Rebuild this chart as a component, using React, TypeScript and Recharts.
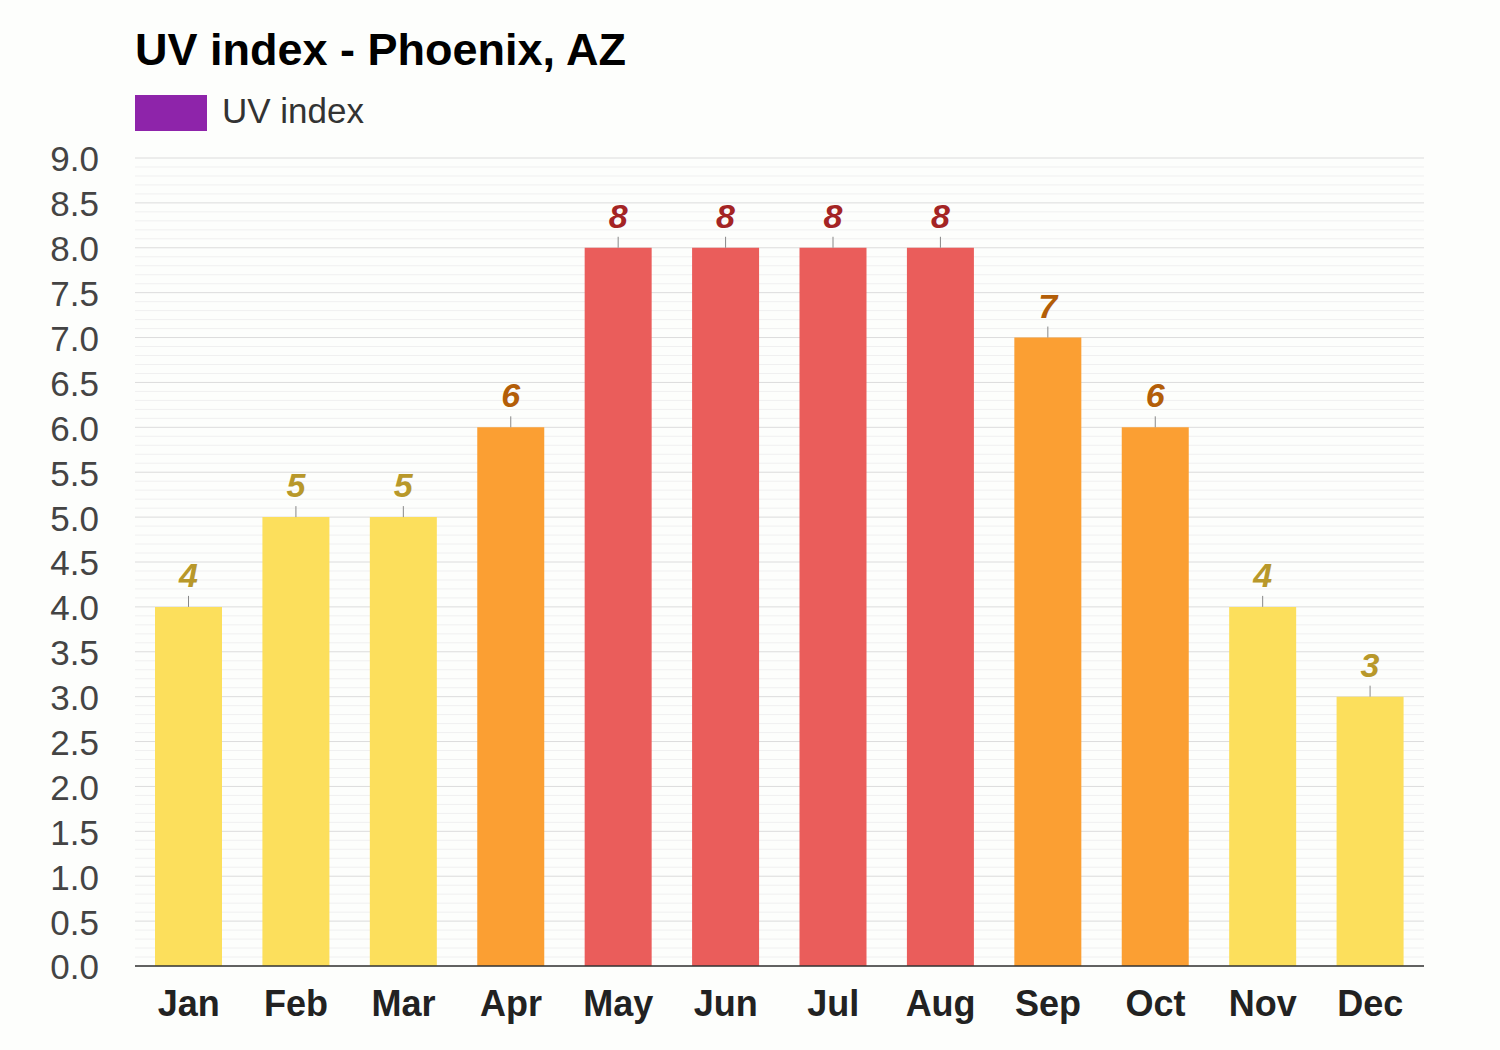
import React from "react";
import { BarChart, Bar, XAxis, YAxis, CartesianGrid, LabelList, Cell } from "recharts";

const months = ["Jan", "Feb", "Mar", "Apr", "May", "Jun", "Jul", "Aug", "Sep", "Oct", "Nov", "Dec"];
const uvIndex = [4, 5, 5, 6, 8, 8, 8, 8, 7, 6, 4, 3];
const yTicks = [0, 0.5, 1, 1.5, 2, 2.5, 3, 3.5, 4, 4.5, 5, 5.5, 6, 6.5, 7, 7.5, 8, 8.5, 9];
const yMax = 9;
// faint lines every 0.1 between the labelled ticks
const minorTicks = Array.from({ length: 91 }, (_, i) => i / 10).filter((_, i) => i % 5 !== 0);

const data = months.map((m, i) => ({ month: m, uv: uvIndex[i] }));

const FONT = '"Liberation Sans", Arial, Helvetica, sans-serif';

// bar fill + label colour by uv level
function barColor(v: number) {
  if (v >= 8) return "#ea5d5b";
  if (v >= 6) return "#fb9f33";
  return "#fcdf5c";
}
function labelColor(v: number) {
  if (v >= 8) return "#a42424";
  if (v >= 6) return "#b35e08";
  return "#b8982a";
}

const ValueLabel = (props: any) => {
  const { x, y, width, value } = props;
  const cx = x + width / 2;
  return (
    <g>
      <line x1={cx} x2={cx} y1={y - 11} y2={y} stroke="#888" strokeWidth={1} />
      <text
        x={cx}
        y={y - 20}
        textAnchor="middle"
        fontFamily={FONT}
        fontSize={34}
        fontWeight="bold"
        fontStyle="italic"
        fill={labelColor(value)}
      >
        {value}
      </text>
    </g>
  );
};

const minorLines = ({ offset }: any) =>
  minorTicks.map((t) => offset.top + offset.height * (1 - t / yMax));

export default function App() {
  return (
    <div style={{ position: "absolute", left: 0, top: 0, width: 1500, height: 1050, background: "#fdfefc", fontFamily: FONT }}>
      <div style={{ position: "absolute", left: 135, top: 24, fontSize: 45, fontWeight: "bold", color: "#000", whiteSpace: "nowrap" }}>
        UV index - Phoenix, AZ
      </div>
      <div style={{ position: "absolute", left: 135, top: 95, width: 72, height: 36, background: "#8e24aa" }} />
      <div style={{ position: "absolute", left: 222, top: 91, fontSize: 35, color: "#333", whiteSpace: "nowrap" }}>UV index</div>
      <div style={{ position: "absolute", left: 0, top: 0 }}>
        <BarChart width={1500} height={1050} data={data} margin={{ top: 158, right: 76, bottom: 24, left: 35 }}>
          <CartesianGrid vertical={false} stroke="#f0f0f0" horizontalCoordinatesGenerator={minorLines} />
          <CartesianGrid vertical={false} stroke="#dcdcdc" />
          <XAxis
            dataKey="month"
            axisLine={{ stroke: "#333", strokeWidth: 1.5 }}
            tickLine={false}
            height={60}
            tick={{ fill: "#222", fontSize: 36, fontWeight: "bold", fontFamily: FONT, dy: 16 }}
          />
          <YAxis
            width={100}
            domain={[0, yMax]}
            ticks={yTicks}
            interval={0}
            axisLine={false}
            tickLine={false}
            tickFormatter={(v) => Number(v).toFixed(1)}
            tick={{ fill: "#444", fontSize: 35, fontFamily: FONT, dx: -28, dy: 1 }}
          />
          <Bar dataKey="uv" barSize={67} isAnimationActive={false}>
            {data.map((d) => (
              <Cell key={d.month} fill={barColor(d.uv)} />
            ))}
            <LabelList dataKey="uv" content={<ValueLabel />} />
          </Bar>
        </BarChart>
      </div>
    </div>
  );
}
